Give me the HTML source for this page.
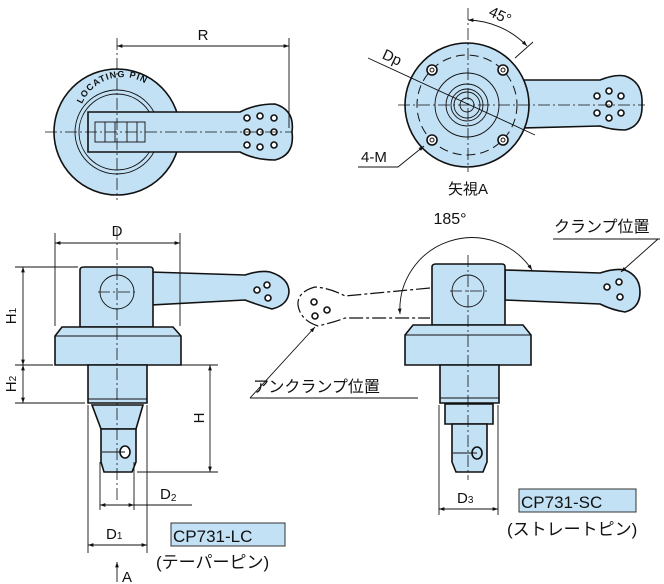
<!DOCTYPE html>
<html><head><meta charset="utf-8"><style>
html,body{margin:0;padding:0;background:#fff}
svg{display:block}
text{font-family:"Liberation Sans","Noto Sans CJK JP",sans-serif;fill:#111}
.f{fill:#c3e1f5;stroke:#111;stroke-width:1.6}
.l{stroke:#111;stroke-width:0.9;fill:none}
.c{stroke:#111;stroke-width:0.8;fill:none;stroke-dasharray:12 3 2 3}
.d{stroke:#111;stroke-width:1;fill:none;stroke-dasharray:9 5}
.h{fill:#fff;stroke:#111;stroke-width:1.6}
</style></head><body>
<svg width="664" height="584" viewBox="0 0 664 584" xmlns="http://www.w3.org/2000/svg">
<defs>
<marker id="a" viewBox="0 0 10 10" refX="10" refY="5" markerWidth="8" markerHeight="6" orient="auto-start-reverse"><path d="M0,1.5 L10,5 L0,8.5z" fill="#111"/></marker>
</defs>

<!-- ===== top-left view ===== -->
<circle class="f" cx="117" cy="132" r="63"/>
<circle class="l" cx="117" cy="132" r="42" stroke-width="1.5"/>
<circle class="l" cx="117" cy="132" r="38"/>
<path class="f" d="M88,112 L240,112 Q255,104 275,104 Q295,110 292,132 Q295,155 275,160 Q255,160 240,152 L88,152 Z"/>
<rect x="95" y="122" width="50" height="20" class="l"/>
<path class="l" d="M105,122v20M115,122v20M127,122v20M137,122v20"/>
<g class="h" stroke-width="1.3">
<circle cx="247" cy="118" r="3"/><circle cx="260" cy="116" r="3"/><circle cx="274" cy="118" r="3"/>
<circle cx="247" cy="132" r="3"/><circle cx="260" cy="132" r="3"/><circle cx="274" cy="132" r="3"/>
<circle cx="247" cy="145" r="3"/><circle cx="260" cy="147" r="3"/><circle cx="274" cy="145" r="3"/>
</g>
<path id="lp" d="M82,104 A44,44 0 0 1 160,98" fill="none"/>
<text font-size="9" font-weight="bold" letter-spacing="1"><textPath href="#lp">LOCATING PIN</textPath></text>
<line class="c" x1="117" y1="38" x2="117" y2="200"/>
<line class="c" x1="45" y1="132" x2="292" y2="132"/>
<line class="l" x1="289" y1="38" x2="289" y2="128"/>
<line class="l" x1="117" y1="46" x2="289" y2="46" marker-start="url(#a)" marker-end="url(#a)"/>
<text x="203" y="40" font-size="15" text-anchor="middle">R</text>

<!-- ===== top-right view ===== -->
<path class="f" d="M520,80 L600,80 Q615,74 625,76 Q643,82 642,104 Q643,126 625,130 Q612,130 600,126 L520,128 Z"/>
<circle class="f" cx="467" cy="105" r="62"/>
<circle class="d" cx="467" cy="105" r="50"/>
<circle class="l" cx="467" cy="105" r="32"/>
<circle class="l" cx="467" cy="105" r="21"/>
<circle class="l" cx="467" cy="105" r="16"/>
<circle class="l" cx="467" cy="105" r="13"/>
<circle class="l" cx="467" cy="105" r="7" stroke-width="1.5"/>
<g class="h" stroke-width="1.3">
<circle cx="432" cy="70" r="5"/><circle cx="503" cy="70" r="5"/><circle cx="432" cy="140" r="5"/><circle cx="503" cy="140" r="5"/>
<circle cx="597" cy="96" r="3"/><circle cx="609" cy="91" r="3"/><circle cx="621" cy="96" r="3"/>
<circle cx="609" cy="104" r="3"/>
<circle cx="597" cy="113" r="3"/><circle cx="609" cy="118" r="3"/><circle cx="621" cy="113" r="3"/>
</g>
<circle cx="432" cy="70" r="2" fill="#fff" stroke="#111"/><circle cx="503" cy="70" r="2" fill="#fff" stroke="#111"/><circle cx="432" cy="140" r="2" fill="#fff" stroke="#111"/><circle cx="503" cy="140" r="2" fill="#fff" stroke="#111"/>
<line class="c" x1="468" y1="8" x2="468" y2="172"/>
<line class="c" x1="398" y1="105" x2="645" y2="105"/>
<line class="l" x1="368" y1="58" x2="535" y2="135"/>
<line class="l" x1="515" y1="58" x2="533" y2="42"/>
<path class="l" d="M468,20 A85,85 0 0 1 527,46" marker-start="url(#a)" marker-end="url(#a)"/>
<text x="498" y="20" font-size="15" transform="rotate(25 498 20)" text-anchor="middle">45°</text>
<text x="390" y="62" font-size="15" transform="rotate(25 390 62)" text-anchor="middle">Dp</text>
<path class="l" d="M358,167 L398,167 L424,146" marker-end="url(#a)"/>
<text x="361" y="162" font-size="15">4-M</text>
<text x="468" y="194" font-size="15" text-anchor="middle">矢視A</text>

<!-- ===== bottom-left view ===== -->
<path class="f" d="M150,272 L245,275 Q260,270 270,272 Q289,278 289,292 Q288,305 272,309 Q258,305 245,300 L150,305 Z"/>
<g class="h" stroke-width="1.3"><circle cx="257" cy="290" r="3"/><circle cx="267" cy="285" r="3"/><circle cx="268" cy="298" r="3"/></g>
<path class="f" d="M84,267 L150,267 Q153,267 153,270 L153,327 L80,327 L80,270 Q80,267 84,267Z"/>
<circle class="l" cx="117" cy="292" r="17" stroke-width="1.5"/>
<path class="f" d="M62,327 L173,327 L181,336 L181,365 L55,365 L55,336 Z"/>
<line class="l" x1="55" y1="336" x2="181" y2="336"/>
<path class="f" d="M88,365 L147,365 L147,403 L88,403 Z"/>
<line class="l" x1="88" y1="399" x2="147" y2="399"/>
<path class="f" d="M92,405 L143,405 L136,429 L101,429 Z"/>
<path class="f" d="M101,429 L136,429 L136,462 L132,472 L104,472 L101,462 Z"/>
<ellipse class="h" cx="125" cy="452" rx="5" ry="6" fill="#c3e1f5"/>
<line class="l" x1="102" y1="452" x2="125" y2="452"/>
<line class="c" x1="117" y1="228" x2="117" y2="500"/>
<line class="c" x1="98" y1="292" x2="138" y2="292"/>
<!-- dims -->
<line class="l" x1="55" y1="233" x2="55" y2="326"/><line class="l" x1="180" y1="233" x2="180" y2="326"/>
<line class="l" x1="55" y1="243" x2="180" y2="243" marker-start="url(#a)" marker-end="url(#a)"/>
<text x="117" y="236" font-size="15" text-anchor="middle">D</text>
<line class="l" x1="15" y1="267" x2="78" y2="267"/><line class="l" x1="15" y1="365" x2="53" y2="365"/><line class="l" x1="15" y1="403" x2="85" y2="403"/>
<line class="l" x1="23" y1="267" x2="23" y2="365" marker-start="url(#a)" marker-end="url(#a)"/>
<line class="l" x1="23" y1="365" x2="23" y2="403" marker-start="url(#a)" marker-end="url(#a)"/>
<text x="16" y="316" font-size="15" transform="rotate(-90 16 316)" text-anchor="middle">H<tspan font-size="10">1</tspan></text>
<text x="16" y="384" font-size="15" transform="rotate(-90 16 384)" text-anchor="middle">H<tspan font-size="10">2</tspan></text>
<line class="l" x1="150" y1="365" x2="218" y2="365"/><line class="l" x1="137" y1="472" x2="218" y2="472"/>
<line class="l" x1="210" y1="365" x2="210" y2="472" marker-start="url(#a)" marker-end="url(#a)"/>
<text x="204" y="418" font-size="15" transform="rotate(-90 204 418)" text-anchor="middle">H</text>
<line class="l" x1="100" y1="462" x2="100" y2="510"/><line class="l" x1="134" y1="462" x2="134" y2="510"/>
<line class="l" x1="100" y1="505" x2="192" y2="505"/>
<path class="l" d="M100,505 L114,505" marker-start="url(#a)"/><path class="l" d="M120,505 L134,505" marker-end="url(#a)"/>
<text x="160" y="499" font-size="15">D<tspan font-size="10" dy="2">2</tspan></text>
<line class="l" x1="88" y1="405" x2="88" y2="553"/><line class="l" x1="147" y1="405" x2="147" y2="553"/>
<line class="l" x1="88" y1="545" x2="147" y2="545" marker-start="url(#a)" marker-end="url(#a)"/>
<text x="106" y="539" font-size="15">D<tspan font-size="10">1</tspan></text>
<line class="l" x1="117" y1="582" x2="117" y2="562" marker-end="url(#a)"/>
<text x="122" y="582" font-size="15">A</text>
<rect x="171" y="523" width="114" height="23" fill="#c3e1f5" stroke="#333" stroke-width="1"/>
<text x="173" y="542" font-size="17">CP731-LC</text>
<text x="156" y="568" font-size="17">(テーパーピン)</text>

<!-- ===== bottom-right view ===== -->
<path d="M430,288 L345,296 Q330,288 315,287 Q297,292 298,305 Q300,320 318,326 Q335,322 345,318 L430,318" fill="#fff" stroke="#111" stroke-width="1.2" stroke-dasharray="14 3 3 3"/>
<g class="h" stroke-width="1.3"><circle cx="314" cy="302" r="3"/><circle cx="327" cy="310" r="3"/><circle cx="315" cy="316" r="3"/></g>
<path class="f" d="M505,270 L600,273 Q615,268 625,270 Q640,276 640,292 Q640,308 625,312 Q612,310 600,304 L505,300 Z"/>
<g class="h" stroke-width="1.3"><circle cx="607" cy="287" r="3"/><circle cx="619" cy="282" r="3"/><circle cx="620" cy="297" r="3"/></g>
<path class="f" d="M436,264 L502,264 Q505,264 505,267 L505,325 L432,325 L432,267 Q432,264 436,264Z"/>
<circle class="l" cx="468" cy="291" r="16" stroke-width="1.5"/>
<path class="f" d="M413,325 L523,325 L531,335 L531,365 L405,365 L405,335 Z"/>
<line class="l" x1="405" y1="335" x2="531" y2="335"/>
<path class="f" d="M440,365 L499,365 L499,403 L440,403 Z"/>
<line class="l" x1="440" y1="398" x2="499" y2="398"/>
<path class="f" d="M445,404 L493,404 L493,424 L445,424 Z"/>
<path class="f" d="M452,424 L487,424 L487,462 L483,472 L456,472 L452,462 Z"/>
<ellipse cx="477" cy="453" rx="5" ry="6" fill="#c3e1f5" stroke="#111" stroke-width="1.6"/>
<line class="l" x1="453" y1="453" x2="477" y2="453"/>
<line class="c" x1="468" y1="255" x2="468" y2="480"/>
<line class="c" x1="450" y1="291" x2="487" y2="291"/>
<path class="l" d="M532,270 A72,72 0 0 0 400,314" marker-start="url(#a)" marker-end="url(#a)"/>
<text x="450" y="224" font-size="16" text-anchor="middle">185°</text>
<text x="554" y="232" font-size="16">クランプ位置</text>
<line class="l" x1="553" y1="239" x2="660" y2="239"/>
<line class="l" x1="658" y1="239" x2="621" y2="272" marker-end="url(#a)"/>
<text x="253" y="392" font-size="16">アンクランプ位置</text>
<line class="l" x1="250" y1="398" x2="418" y2="398"/>
<line class="l" x1="250" y1="398" x2="315" y2="327" marker-end="url(#a)"/>
<line class="l" x1="439" y1="405" x2="439" y2="515"/><line class="l" x1="498" y1="405" x2="498" y2="515"/>
<line class="l" x1="439" y1="509" x2="498" y2="509" marker-start="url(#a)" marker-end="url(#a)"/>
<text x="457" y="503" font-size="15">D<tspan font-size="10">3</tspan></text>
<rect x="519" y="489" width="117" height="23" fill="#c3e1f5" stroke="#333" stroke-width="1"/>
<text x="521" y="508" font-size="17">CP731-SC</text>
<text x="507" y="535" font-size="17">(ストレートピン)</text>
</svg>
</body></html>
